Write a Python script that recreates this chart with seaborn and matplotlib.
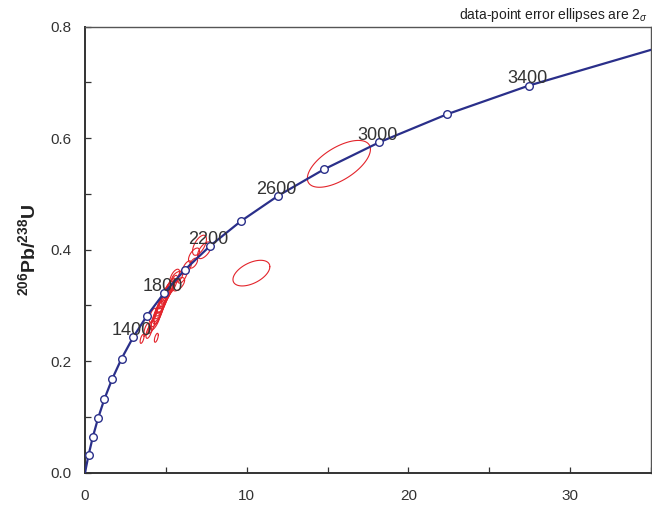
import numpy as np
import pandas as pd
import matplotlib
matplotlib.use("Agg")
import matplotlib.pyplot as plt
from matplotlib.ticker import MultipleLocator
import seaborn as sns

# Concordia age markers (Ma) and their ratios
ages = [200, 400, 600, 800, 1000, 1200, 1400, 1600, 1800, 2000,
        2200, 2400, 2600, 2800, 3000, 3200, 3400]
pb207_u235 = [0.218, 0.483, 0.806, 1.199, 1.677, 2.260, 2.970, 3.834, 4.887, 6.169,
              7.729, 9.630, 11.944, 14.762, 18.193, 22.372, 27.459]
pb206_u238 = [0.0315, 0.0640, 0.0975, 0.1321, 0.1678, 0.2046, 0.2426, 0.2817, 0.3221, 0.3637,
              0.4067, 0.4510, 0.4968, 0.5439, 0.5926, 0.6428, 0.6945]
labelled_ages = [1400, 1800, 2200, 2600, 3000, 3400]

# curve end points (origin and where it leaves the plot)
curve_start = (0.0, 0.0)
curve_end = (35.0, 0.7585)

# data-point error ellipses: centre x, centre y, half-width x, half-height y, correlation
ell_x = [3.53, 4.41, 3.82, 3.95, 4.10, 4.20,
         4.35, 4.42, 4.50, 4.55, 4.62, 4.68, 4.74, 4.80, 4.87, 4.93, 5.00, 5.06, 5.13,
         5.20, 5.28, 5.40,
         5.70, 5.79, 6.03, 5.55, 6.30,
         6.71, 6.74, 7.08, 7.39,
         10.29, 15.70]
ell_y = [0.240, 0.242, 0.257, 0.252, 0.262, 0.282,
         0.272, 0.279, 0.283, 0.289, 0.293, 0.298, 0.302, 0.306, 0.311, 0.315, 0.318,
         0.322, 0.326, 0.329, 0.333, 0.337,
         0.351, 0.338, 0.354, 0.352, 0.368,
         0.376, 0.390, 0.408, 0.399,
         0.358, 0.554]
ell_hx = [0.12, 0.12, 0.17, 0.18, 0.20, 0.22,
          0.30, 0.32, 0.30, 0.33, 0.31, 0.32, 0.30, 0.33, 0.31, 0.32, 0.30, 0.33, 0.31,
          0.32, 0.30, 0.32,
          0.34, 0.37, 0.30, 0.30, 0.28,
          0.25, 0.34, 0.43, 0.43,
          1.14, 1.95]
ell_hy = [0.008, 0.008, 0.011, 0.011, 0.012, 0.013,
          0.016, 0.017, 0.016, 0.018, 0.017, 0.017, 0.016, 0.018, 0.017, 0.017, 0.016,
          0.018, 0.017, 0.017, 0.016, 0.017,
          0.010, 0.012, 0.014, 0.013, 0.012,
          0.009, 0.013, 0.018, 0.015,
          0.023, 0.042]
ell_rho = [0.6, 0.6, 0.6, 0.6, 0.6, 0.6,
           0.75, 0.75, 0.75, 0.75, 0.75, 0.75, 0.75, 0.75, 0.75, 0.75, 0.75, 0.75, 0.75,
           0.75, 0.75, 0.75,
           0.5, 0.6, 0.6, 0.6, 0.6,
           0.6, 0.6, 0.6, 0.6,
           0.5, 0.62]

sns.set_style("white")
plt.rcParams["font.family"] = ["Liberation Sans", "DejaVu Sans"]
plt.rcParams["mathtext.fontset"] = "custom"
plt.rcParams["mathtext.rm"] = "Liberation Sans"
plt.rcParams["mathtext.bf"] = "Liberation Sans:bold"
plt.rcParams["mathtext.it"] = "Liberation Sans:italic"

fig = plt.figure(figsize=(6.52, 5.09), dpi=100)
ax = fig.add_axes([85 / 652, 36.3 / 509, 566 / 652, 446 / 509])

navy = "#2a2f8a"
red = "#e3242b"

# error ellipses
t = np.linspace(0, 2 * np.pi, 120)
for cx, cy, hx, hy, r in zip(ell_x, ell_y, ell_hx, ell_hy, ell_rho):
    ex = cx + hx * np.cos(t)
    ey = cy + hy * (r * np.cos(t) + np.sqrt(1 - r ** 2) * np.sin(t))
    ax.plot(ex, ey, color=red, lw=0.8, zorder=2)

# concordia curve
curve = pd.DataFrame({
    "x": [curve_start[0]] + pb207_u235 + [curve_end[0]],
    "y": [curve_start[1]] + pb206_u238 + [curve_end[1]],
})
sns.lineplot(data=curve, x="x", y="y", sort=False, color=navy, lw=1.6, ax=ax, zorder=3)

markers = pd.DataFrame({"age": ages, "x": pb207_u235, "y": pb206_u238})
sns.scatterplot(data=markers, x="x", y="y", marker="o", s=30, facecolor="white",
                edgecolor=navy, linewidth=1.0, ax=ax, zorder=4)

for a, x, y in zip(ages, pb207_u235, pb206_u238):
    if a in labelled_ages:
        ax.annotate(str(a), (x, y), xytext=(-1, 1.5), textcoords="offset points",
                    ha="center", va="baseline", fontsize=13, color="#333333", zorder=5)

ax.set_xlim(0, 35)
ax.set_ylim(0, 0.8)
ax.xaxis.set_major_locator(MultipleLocator(10))
ax.xaxis.set_minor_locator(MultipleLocator(5))
ax.yaxis.set_major_locator(MultipleLocator(0.2))
ax.yaxis.set_minor_locator(MultipleLocator(0.1))
ax.yaxis.set_major_formatter(plt.FuncFormatter(lambda v, p: f"{v:.1f}"))
ax.tick_params(which="both", bottom=True, left=True, direction="in", length=4, width=0.9,
               color="#333333", labelsize=11, labelcolor="#333333")
ax.tick_params(axis="x", which="major", pad=12)
ax.tick_params(axis="y", which="major", pad=10)
for side in ["left", "bottom"]:
    ax.spines[side].set_color("#333333")
    ax.spines[side].set_linewidth(1.4)
for side in ["top", "right"]:
    ax.spines[side].set_color("#555555")
    ax.spines[side].set_linewidth(1.0)

ax.set_xlabel("")
ax.set_ylabel(r"$^{\mathbf{206}}$Pb/$^{\mathbf{238}}$U", fontsize=14, fontweight="bold",
              color="#222222", labelpad=8)
ax.text(0.994, 1.006, r"data-point error ellipses are 2$_\sigma$", transform=ax.transAxes,
        ha="right", va="bottom", fontsize=10, color="#222222")

plt.savefig("out.png", dpi=100)
